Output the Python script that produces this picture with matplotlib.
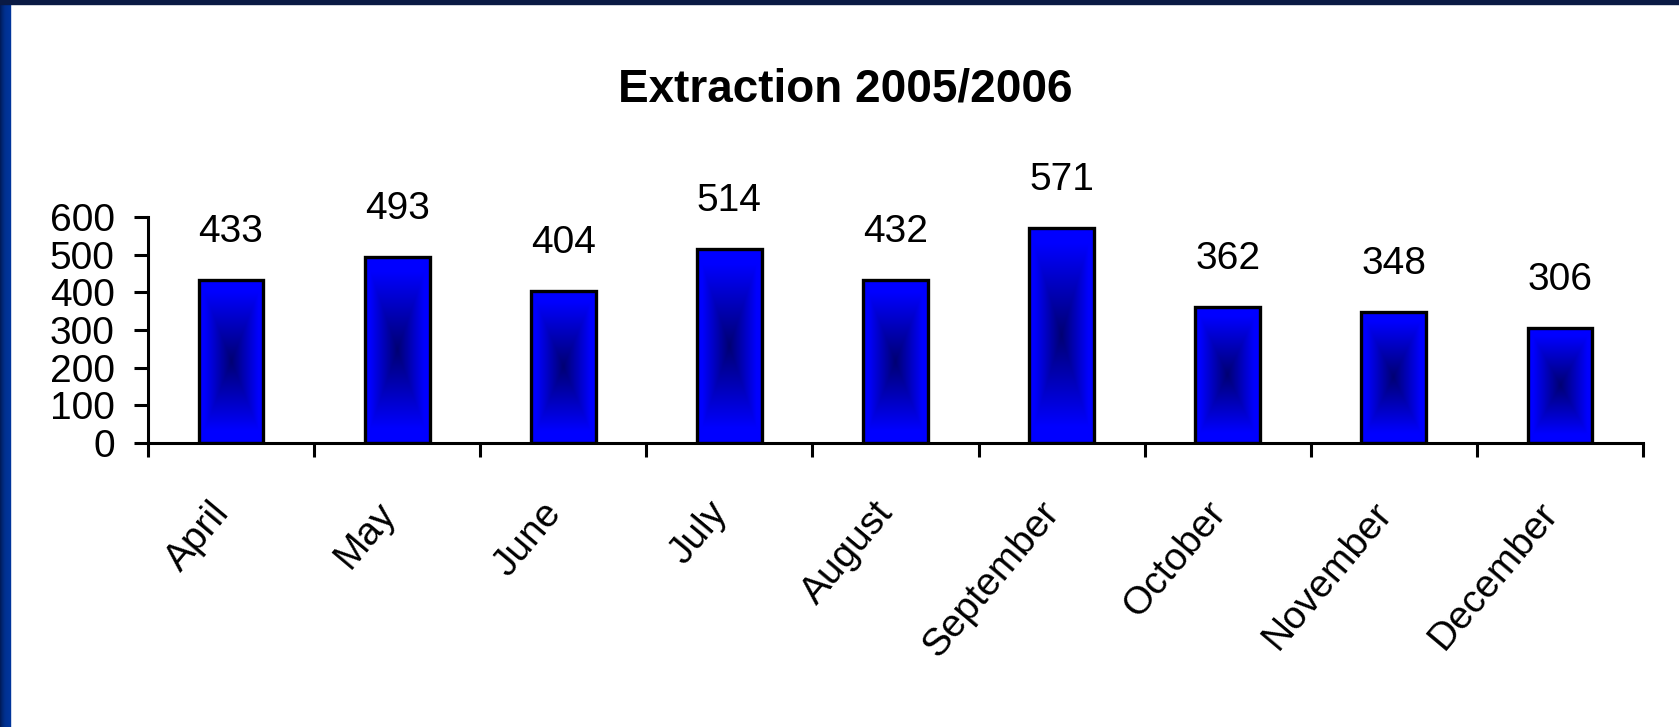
import numpy as np
import matplotlib
matplotlib.use("Agg")
import matplotlib.pyplot as plt
from matplotlib.patches import Rectangle

months = ["April", "May", "June", "July", "August", "September",
          "October", "November", "December"]
extraction = [433, 493, 404, 514, 432, 571, 362, 348, 306]
y_ticks = [0, 100, 200, 300, 400, 500, 600]

W, H = 1679, 727
narrow = ["Liberation Sans Narrow", "Liberation Sans", "DejaVu Sans"]

fig = plt.figure(figsize=(W / 100, H / 100), dpi=100)
fig.patch.set_facecolor("white")

# navy slide frame (left strip + thin top strip)
for i, c in enumerate(["#001a58", "#002066", "#002674", "#002a7e", "#002e88", "#003090",
                       "#003194", "#003296", "#003398", "#00349a"]):
    fig.patches.append(Rectangle((i / W, 0), 1 / W, 1, transform=fig.transFigure,
                                 color=c, zorder=0))
fig.patches.append(Rectangle((0, 1 - 4 / H), 1, 4 / H, transform=fig.transFigure,
                             color="#0a1a44", zorder=0))

ax = fig.add_axes([148 / W, 1 - 443 / H, (1643 - 148) / W, (443 - 217) / H])
ax.set_facecolor("none")

x = np.arange(len(months))
bars = ax.bar(x, extraction, width=0.39, facecolor="none", edgecolor="black",
              linewidth=2.4, zorder=3)

# dark-centred gradient fill inside each bar
nx, ny = 80, 240
u = np.abs(np.linspace(-1, 1, nx))[None, :]
v = np.abs(np.linspace(-1, 1, ny))[:, None]
d = np.clip(np.maximum(u, v) / 0.85, 0, 1)
dark = np.array([0.0, 0.0, 0.45])
blue = np.array([0.0, 0.0, 1.0])
grad = dark + (blue - dark) * d[..., None]
for b in bars:
    x0, w, h = b.get_x(), b.get_width(), b.get_height()
    im = ax.imshow(grad, extent=(x0, x0 + w, 0, h), aspect="auto",
                   interpolation="bilinear", zorder=2)
    im.set_clip_path(b)

for xi, val in zip(x, extraction):
    ax.annotate(str(val), (xi, val), xytext=(0, 34.5), textcoords="offset points",
                ha="center", va="center", fontsize=28, family=narrow)

for xi, m in zip(x, months):
    ax.annotate(m, (xi, 0), xytext=(-6, -46), textcoords="offset points",
                ha="right", va="center", rotation=50, rotation_mode="anchor",
                fontsize=28, family=["Liberation Sans", "DejaVu Sans"],
                annotation_clip=False)

ax.set_xlim(-0.5, len(months) - 0.5)
ax.set_ylim(0, 600)
ax.set_xticks(np.arange(-0.5, len(months), 1.0))
ax.set_xticklabels([])
ax.set_yticks(y_ticks)
ax.set_yticklabels([str(t) for t in y_ticks], family=narrow, fontsize=28)
ax.tick_params(axis="both", direction="out", length=10, width=2.2, color="black")
ax.tick_params(axis="y", pad=14)
for s in ["top", "right"]:
    ax.spines[s].set_visible(False)
for s in ["left", "bottom"]:
    ax.spines[s].set_linewidth(2.2)

fig.text(845 / W, 1 - 102 / H, "Extraction 2005/2006", ha="center", va="baseline",
         fontsize=33, fontweight="bold", family=["Liberation Sans", "DejaVu Sans"])

fig.savefig("out.png", dpi=100)
